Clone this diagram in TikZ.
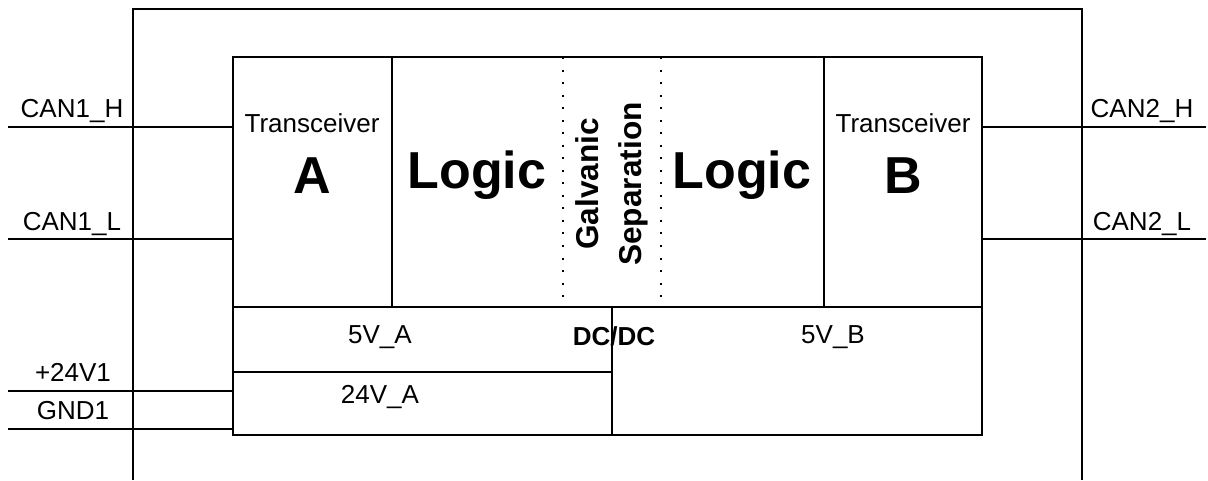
\documentclass[tikz,border=0pt]{standalone}
\usepackage{fontspec}
\setmainfont{Liberation Sans}

\tikzset{
  lbl/.style={inner sep=0pt, anchor=base, font=\fontsize{19.5}{23}\selectfont},
  boldlbl/.style={lbl, font=\fontsize{19.5}{23}\selectfont\bfseries},
  biglbl/.style={inner sep=0pt, anchor=base, font=\fontsize{39}{44}\selectfont\bfseries},
  isoline/.style={dash pattern=on 1.5pt off 7.9pt},
}

\begin{document}
\begin{tikzpicture}[x=0.75pt, y=-0.75pt, line width=1.6pt]
    \useasboundingbox (0,0) rectangle (1208,480);

    % Housing (open at the bottom)
    \draw (133,480) -- (133,9) -- (1082,9) -- (1082,480);

    % Module with its blocks
    \coordinate (modNW) at (233,57);
    \coordinate (modSE) at (982,435);
    \draw (modNW) rectangle (modSE);
    \draw (233,307) -- (982,307);
    \draw (392,57) -- (392,307);
    \draw (824,57) -- (824,307);
    \draw[isoline] (563,57) -- (563,307);
    \draw[isoline] (661,57) -- (661,307);
    \draw (612,307) -- (612,435);
    \draw (233,372) -- (612,372);

    \node[lbl] (trA) at (312,132) {Transceiver};
    \node[biglbl] (trAname) at (312,193) {A};
    \node[biglbl] (logicA) at (477,188) {Logic};
    \node[inner sep=0pt, rotate=90, align=center,
          font=\fontsize{23.7}{32.3}\selectfont\bfseries] (galv) at (612,184) {Galvanic\\Separation};
    \node[biglbl] (logicB) at (742,188) {Logic};
    \node[lbl] (trB) at (903,132) {Transceiver};
    \node[biglbl] (trBname) at (903,193) {B};
    \node[lbl] (supA) at (380,343) {5V\_A};
    \node[lbl] (supIn) at (380,403) {24V\_A};
    \node[boldlbl] (dcdc) at (614,345) {DC/DC};
    \node[lbl] (supB) at (833,343) {5V\_B};

    % Left side wires
    \coordinate (canAH) at (8,127);
    \coordinate (canAL) at (8,239);
    \coordinate (pwr) at (8,391);
    \coordinate (gnd) at (8,429);
    \draw (canAH) -- (canAH -| modNW);
    \draw (canAL) -- (canAL -| modNW);
    \draw (pwr) -- (pwr -| modNW);
    \draw (gnd) -- (gnd -| modNW);
    \node[lbl] (canAHlbl) at (72,117) {CAN1\_H};
    \node[lbl] (canALlbl) at (72,230) {CAN1\_L};
    \node[lbl] (pwrlbl) at (73,381) {+24V1};
    \node[lbl] (gndlbl) at (73,419) {GND1};

    % Right side wires
    \coordinate (canBH) at (1206,127);
    \coordinate (canBL) at (1206,239);
    \draw (canBH) -- (canBH -| modSE);
    \draw (canBL) -- (canBL -| modSE);
    \node[lbl] (canBHlbl) at (1142,117) {CAN2\_H};
    \node[lbl] (canBLlbl) at (1142,230) {CAN2\_L};
\end{tikzpicture}
\end{document}
